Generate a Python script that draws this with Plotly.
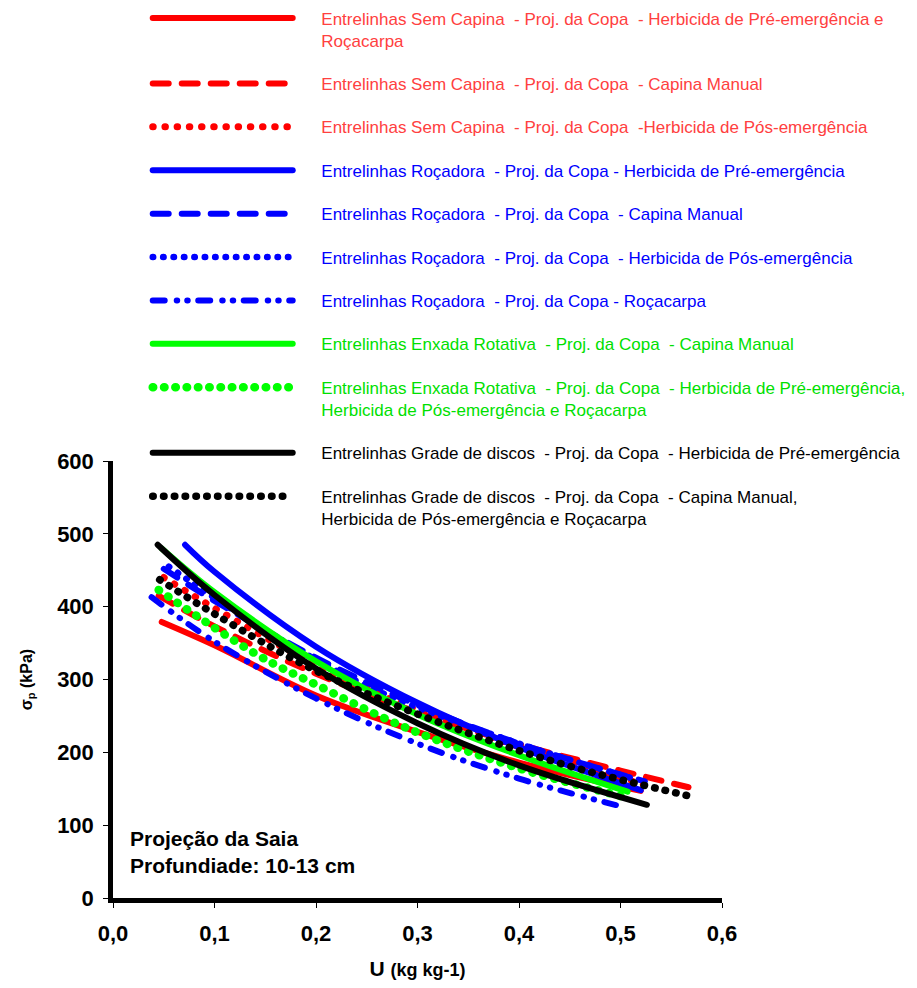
import plotly.graph_objects as go

# Moisture content U (kg kg-1) and preconsolidation pressure (kPa) per management system
red_solid_x = [0.048, 0.10, 0.20, 0.30, 0.40, 0.52]
red_solid_y = [379, 347, 278, 228, 186, 147]

red_dash_x = [0.045, 0.10, 0.20, 0.30, 0.40, 0.50, 0.567]
red_dash_y = [415, 373, 308, 255, 211, 175, 152]

red_dot_x = [0.05, 0.10, 0.20, 0.30, 0.40, 0.525]
red_dot_y = [440, 398, 320, 258, 208, 155]

blue_solid_x = [0.071, 0.10, 0.20, 0.30, 0.40, 0.52]
blue_solid_y = [485, 448, 345, 268, 207, 148]

blue_dash_x = [0.05, 0.10, 0.20, 0.30, 0.40, 0.524]
blue_dash_y = [452, 408, 330, 265, 212, 160]

blue_dot_x = [0.055, 0.145, 0.258, 0.40, 0.51]
blue_dot_y = [455, 372, 286, 212, 165]

blue_dashdot_x = [0.038, 0.10, 0.20, 0.30, 0.40, 0.50]
blue_dashdot_y = [413, 352, 274, 212, 164, 126]

green_solid_x = [0.048, 0.10, 0.20, 0.30, 0.40, 0.507]
green_solid_y = [480, 420, 325, 252, 196, 146]

green_dot_x = [0.045, 0.142, 0.20, 0.29, 0.40, 0.50]
green_dot_y = [423, 334, 293, 233, 178, 140]

black_solid_x = [0.044, 0.10, 0.20, 0.30, 0.40, 0.526]
black_solid_y = [485, 416, 315, 240, 182, 128]

black_dot_x = [0.046, 0.10, 0.20, 0.339, 0.45, 0.571]
black_dot_y = [437, 390, 312, 232, 181, 139]

x_ticks = [0.0, 0.1, 0.2, 0.3, 0.4, 0.5, 0.6]
y_ticks = [0, 100, 200, 300, 400, 500, 600]

RED, BLUE, GREEN, BLACK = "#FF0000", "#0000FF", "#00FF00", "#000000"
RED_TXT, BLUE_TXT, GREEN_TXT, BLACK_TXT = "#FF4040", "#0000FF", "#00E000", "#000000"
S = "\u00a0 "            # double space kept in legend text
PAD = "\u00a0" * 5       # gap between legend symbol and label

series = [
    (red_solid_x, red_solid_y, RED, RED_TXT, "solid", 6,
     f"Entrelinhas Sem Capina{S}- Proj. da Copa{S}- Herbicida de Pré-emergência e<br>Roçacarpa"),
    (red_dash_x, red_dash_y, RED, RED_TXT, "16px,13px", 6,
     f"Entrelinhas Sem Capina{S}- Proj. da Copa{S}- Capina Manual"),
    (red_dot_x, red_dot_y, RED, RED_TXT, "0.5px,11.7px", 7,
     f"Entrelinhas Sem Capina{S}- Proj. da Copa{S}-Herbicida de Pós-emergência"),
    (blue_solid_x, blue_solid_y, BLUE, BLUE_TXT, "solid", 6,
     f"Entrelinhas Roçadora{S}- Proj. da Copa - Herbicida de Pré-emergência"),
    (blue_dash_x, blue_dash_y, BLUE, BLUE_TXT, "16px,13px", 6,
     f"Entrelinhas Roçadora{S}- Proj. da Copa{S}- Capina Manual"),
    (blue_dot_x, blue_dot_y, BLUE, BLUE_TXT, "0.5px,9.9px", 6.5,
     f"Entrelinhas Roçadora{S}- Proj. da Copa{S}- Herbicida de Pós-emergência"),
    (blue_dashdot_x, blue_dashdot_y, BLUE, BLUE_TXT, "12px,12px,0.5px,10px,0.5px,10.5px", 6,
     f"Entrelinhas Roçadora{S}- Proj. da Copa - Roçacarpa"),
    (green_solid_x, green_solid_y, GREEN, GREEN_TXT, "solid", 6,
     f"Entrelinhas Enxada Rotativa{S}- Proj. da Copa{S}- Capina Manual"),
    (green_dot_x, green_dot_y, GREEN, GREEN_TXT, "0.5px,10.8px", 8.5,
     f"Entrelinhas Enxada Rotativa{S}- Proj. da Copa{S}- Herbicida de Pré-emergência,<br>Herbicida de Pós-emergência e Roçacarpa"),
    (black_solid_x, black_solid_y, BLACK, BLACK_TXT, "solid", 6,
     f"Entrelinhas Grade de discos{S}- Proj. da Copa{S}- Herbicida de Pré-emergência"),
    (black_dot_x, black_dot_y, BLACK, BLACK_TXT, "0.5px,10.3px", 7.5,
     f"Entrelinhas Grade de discos{S}- Proj. da Copa{S}- Capina Manual,<br>Herbicida de Pós-emergência e Roçacarpa"),
]

fig = go.Figure()
for i, (xs, ys, col, tcol, dash, w, name) in enumerate(series):
    label = PAD + name.replace("<br>", "<br>" + PAD)
    fig.add_trace(go.Scatter(
        x=xs, y=ys, mode="lines",
        line=dict(color=col, width=w, dash=dash, shape="spline", smoothing=1.0),
        name=f'<span style="color:{tcol}">{label}</span>',
        legendgroup=f"g{i}",
        hoverinfo="skip",
    ))

FONT = "Liberation Sans, Arial, sans-serif"

fig.update_layout(
    width=917, height=988,
    paper_bgcolor="white", plot_bgcolor="white",
    margin=dict(l=113, r=195, t=461, b=90, autoexpand=False),
    separators=",.",
    font=dict(family=FONT, color="black"),
    showlegend=True,
    legend=dict(
        x=0.057, y=2.054, xanchor="left", yanchor="top",
        bgcolor="rgba(0,0,0,0)", borderwidth=0,
        font=dict(family=FONT, size=17),
        itemwidth=140, tracegroupgap=18.3, traceorder="grouped",
        valign="top", maxheight=980,
    ),
    xaxis=dict(
        range=[0, 0.6], tickvals=x_ticks, tickformat=".1f",
        showgrid=False, zeroline=False,
        showline=True, linecolor="black", linewidth=4.5,
        ticks="outside", ticklen=5, tickwidth=1, tickcolor="black",
        ticklabelstandoff=7,
        tickfont=dict(family=FONT, size=22, weight="bold"),
        title=dict(text="U <span style='font-size:18px'>(kg kg-1)</span>",
                   font=dict(family=FONT, size=21, weight="bold"), standoff=18),
    ),
    yaxis=dict(
        range=[0, 600], tickvals=y_ticks,
        showgrid=False, zeroline=False,
        showline=True, linecolor="black", linewidth=4.5,
        ticks="outside", ticklen=5, tickwidth=1, tickcolor="black",
        ticklabelstandoff=5,
        tickfont=dict(family=FONT, size=22, weight="bold"),
        title=dict(text="σ<sub>p</sub> (kPa)",
                   font=dict(family=FONT, size=16, weight="bold"), standoff=22),
    ),
    annotations=[dict(
        text="Projeção da Saia<br>Profundiade: 10-13 cm",
        xref="paper", yref="paper", x=0.025, y=0.043,
        xanchor="left", yanchor="bottom", align="left", showarrow=False,
        font=dict(family=FONT, size=21, weight="bold", color="black"),
    )],
)

round_caps = """
var gd = document.getElementById('{plot_id}');
function roundCaps() {
  gd.querySelectorAll('.scatterlayer .js-line, .legend .legendlines path').forEach(function (p) {
    p.style.strokeLinecap = 'round';
    p.style.strokeLinejoin = 'round';
  });
}
roundCaps();
gd.on('plotly_afterplot', roundCaps);
"""

fig.write_html("out.html", post_script=round_caps)
